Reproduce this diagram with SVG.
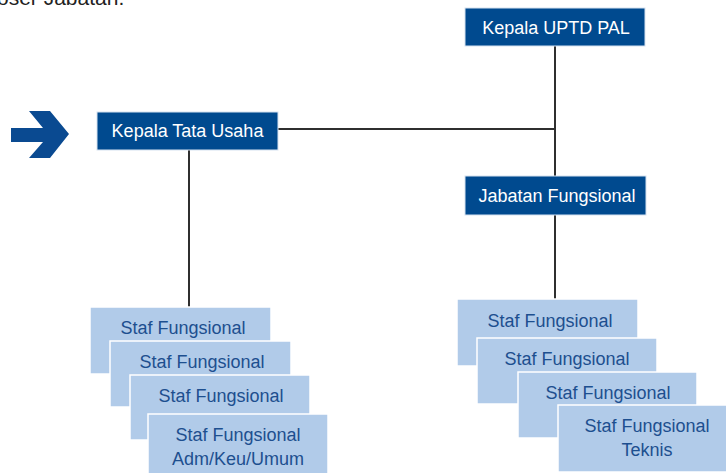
<svg xmlns="http://www.w3.org/2000/svg" width="726" height="473" viewBox="0 0 726 473">
  <style>
    .head rect { fill: #004a8f; stroke: #d6e2f0; stroke-width: 1; }
    .head text { fill: #ffffff; font-family: "Liberation Sans", Arial, sans-serif; font-size: 18px; text-anchor: middle; }
    .staf rect { fill: #b1cbe9; stroke: #ffffff; stroke-width: 1.5; }
    .staf text { fill: #1d4f8f; font-family: "Liberation Sans", Arial, sans-serif; font-size: 18px; text-anchor: middle; }
    .conn line { stroke: #2f2f2f; stroke-width: 2; }
  </style>
  <rect x="0" y="0" width="726" height="473" fill="#ffffff"/>

  <!-- caption clipped at the top edge -->
  <text x="-3" y="5" font-family="Liberation Sans, Arial, sans-serif" font-size="21" fill="#222">oser Jabatan.</text>

  <!-- pointer arrow -->
  <polygon points="11,128 43,128 29,111 50,111 69,134 50,158 29,158 43,142 11,142" fill="#0a4a91"/>

  <!-- connectors -->
  <g class="conn">
    <line x1="555" y1="46" x2="555" y2="300"/>
    <line x1="278" y1="129" x2="555" y2="129"/>
    <line x1="189" y1="150" x2="189" y2="308"/>
  </g>

  <g id="kepala-uptd" class="head">
    <rect x="465" y="8" width="180" height="38"/>
    <text x="556" y="34">Kepala UPTD PAL</text>
  </g>

  <g id="kepala-tu" class="head">
    <rect x="97" y="112" width="181" height="38"/>
    <text x="187.5" y="137">Kepala Tata Usaha</text>
  </g>

  <g id="jabatan-fungsional" class="head">
    <rect x="465" y="176" width="181" height="39"/>
    <text x="557" y="202">Jabatan Fungsional</text>
  </g>

  <!-- left stack -->
  <g id="staf-l1" class="staf">
    <rect x="90" y="307" width="181" height="67"/>
    <text x="183" y="334">Staf Fungsional</text>
  </g>
  <g id="staf-l2" class="staf">
    <rect x="110" y="341" width="181" height="66"/>
    <text x="202" y="368">Staf Fungsional</text>
  </g>
  <g id="staf-l3" class="staf">
    <rect x="130" y="375" width="180" height="65"/>
    <text x="221" y="402">Staf Fungsional</text>
  </g>
  <g id="staf-l4" class="staf">
    <rect x="148" y="414" width="180" height="62"/>
    <text x="238" y="441">Staf Fungsional</text>
    <text x="238" y="465">Adm/Keu/Umum</text>
  </g>

  <!-- right stack -->
  <g id="staf-r1" class="staf">
    <rect x="457" y="299" width="181" height="67"/>
    <text x="550" y="327">Staf Fungsional</text>
  </g>
  <g id="staf-r2" class="staf">
    <rect x="477" y="338" width="180" height="66"/>
    <text x="567" y="365">Staf Fungsional</text>
  </g>
  <g id="staf-r3" class="staf">
    <rect x="518" y="372" width="179" height="66"/>
    <text x="608" y="399">Staf Fungsional</text>
  </g>
  <g id="staf-r4" class="staf">
    <rect x="558" y="405" width="170" height="67"/>
    <text x="647" y="432">Staf Fungsional</text>
    <text x="647" y="456">Teknis</text>
  </g>
</svg>
